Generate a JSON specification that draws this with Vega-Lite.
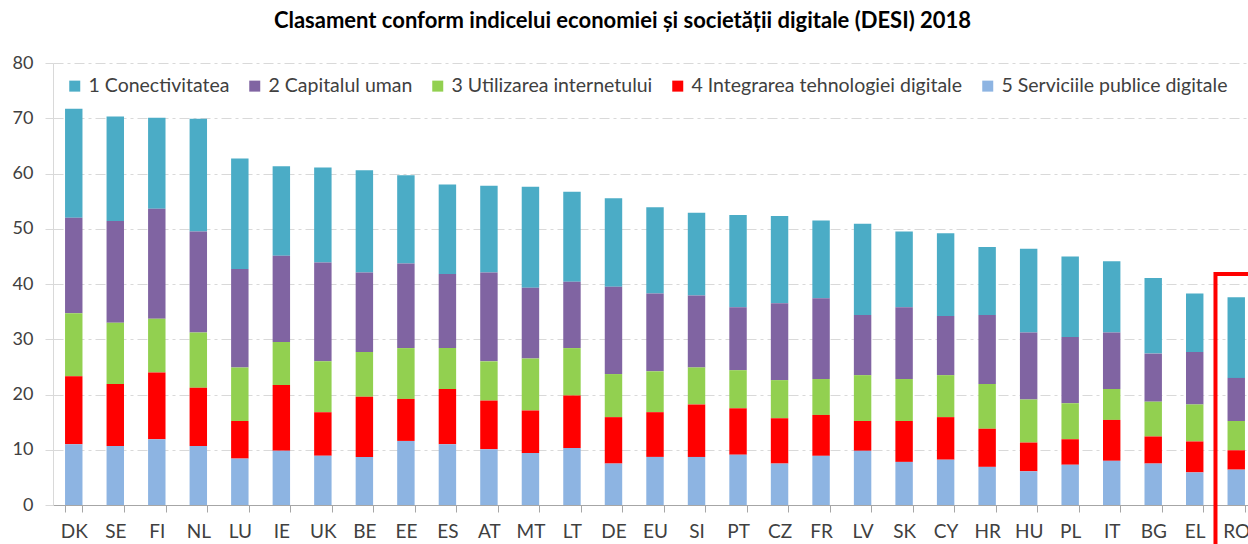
{
  "$schema": "https://vega.github.io/schema/vega-lite/v6.json",
  "width": 1195,
  "height": 442,
  "autosize": {"type": "none"},
  "padding": {"left": 53, "top": 63, "right": 0, "bottom": 39},
  "background": "white",
  "title": {
    "text": "Clasament conform indicelui economiei și societății digitale (DESI) 2018",
    "font": "Lato",
    "fontSize": 22,
    "fontWeight": "bold",
    "color": "#000000",
    "anchor": "middle",
    "dx": -28,
    "offset": 4,
    "baseline": "alphabetic"
  },
  "config": {"view": {"stroke": null}},
  "datasets": {
    "desi": [
      {"tara": "DK", "1 Conectivitatea": 19.7, "2 Capitalul uman": 17.3, "3 Utilizarea internetului": 11.4, "4 Integrarea tehnologiei digitale": 12.3, "5 Serviciile publice digitale": 11.0},
      {"tara": "SE", "1 Conectivitatea": 18.9, "2 Capitalul uman": 18.4, "3 Utilizarea internetului": 11.1, "4 Integrarea tehnologiei digitale": 11.2, "5 Serviciile publice digitale": 10.7},
      {"tara": "FI", "1 Conectivitatea": 16.5, "2 Capitalul uman": 19.9, "3 Utilizarea internetului": 9.7, "4 Integrarea tehnologiei digitale": 12.1, "5 Serviciile publice digitale": 11.9},
      {"tara": "NL", "1 Conectivitatea": 20.4, "2 Capitalul uman": 18.3, "3 Utilizarea internetului": 10.0, "4 Integrarea tehnologiei digitale": 10.5, "5 Serviciile publice digitale": 10.7},
      {"tara": "LU", "1 Conectivitatea": 20.0, "2 Capitalul uman": 17.8, "3 Utilizarea internetului": 9.7, "4 Integrarea tehnologiei digitale": 6.8, "5 Serviciile publice digitale": 8.4},
      {"tara": "IE", "1 Conectivitatea": 16.2, "2 Capitalul uman": 15.6, "3 Utilizarea internetului": 7.8, "4 Integrarea tehnologiei digitale": 11.9, "5 Serviciile publice digitale": 9.8},
      {"tara": "UK", "1 Conectivitatea": 17.2, "2 Capitalul uman": 17.9, "3 Utilizarea internetului": 9.2, "4 Integrarea tehnologiei digitale": 7.9, "5 Serviciile publice digitale": 8.9},
      {"tara": "BE", "1 Conectivitatea": 18.5, "2 Capitalul uman": 14.4, "3 Utilizarea internetului": 8.1, "4 Integrarea tehnologiei digitale": 10.9, "5 Serviciile publice digitale": 8.7},
      {"tara": "EE", "1 Conectivitatea": 16.0, "2 Capitalul uman": 15.3, "3 Utilizarea internetului": 9.2, "4 Integrarea tehnologiei digitale": 7.6, "5 Serviciile publice digitale": 11.6},
      {"tara": "ES", "1 Conectivitatea": 16.2, "2 Capitalul uman": 13.4, "3 Utilizarea internetului": 7.4, "4 Integrarea tehnologiei digitale": 10.0, "5 Serviciile publice digitale": 11.0},
      {"tara": "AT", "1 Conectivitatea": 15.7, "2 Capitalul uman": 16.1, "3 Utilizarea internetului": 7.1, "4 Integrarea tehnologiei digitale": 8.8, "5 Serviciile publice digitale": 10.1},
      {"tara": "MT", "1 Conectivitatea": 18.3, "2 Capitalul uman": 12.8, "3 Utilizarea internetului": 9.4, "4 Integrarea tehnologiei digitale": 7.7, "5 Serviciile publice digitale": 9.4},
      {"tara": "LT", "1 Conectivitatea": 16.3, "2 Capitalul uman": 12.0, "3 Utilizarea internetului": 8.6, "4 Integrarea tehnologiei digitale": 9.5, "5 Serviciile publice digitale": 10.3},
      {"tara": "DE", "1 Conectivitatea": 16.0, "2 Capitalul uman": 15.8, "3 Utilizarea internetului": 7.8, "4 Integrarea tehnologiei digitale": 8.4, "5 Serviciile publice digitale": 7.5},
      {"tara": "EU", "1 Conectivitatea": 15.6, "2 Capitalul uman": 14.1, "3 Utilizarea internetului": 7.4, "4 Integrarea tehnologiei digitale": 8.1, "5 Serviciile publice digitale": 8.7},
      {"tara": "SI", "1 Conectivitatea": 15.0, "2 Capitalul uman": 13.0, "3 Utilizarea internetului": 6.7, "4 Integrarea tehnologiei digitale": 9.5, "5 Serviciile publice digitale": 8.7},
      {"tara": "PT", "1 Conectivitatea": 16.7, "2 Capitalul uman": 11.4, "3 Utilizarea internetului": 6.9, "4 Integrarea tehnologiei digitale": 8.4, "5 Serviciile publice digitale": 9.1},
      {"tara": "CZ", "1 Conectivitatea": 15.8, "2 Capitalul uman": 13.9, "3 Utilizarea internetului": 6.9, "4 Integrarea tehnologiei digitale": 8.2, "5 Serviciile publice digitale": 7.5},
      {"tara": "FR", "1 Conectivitatea": 14.1, "2 Capitalul uman": 14.6, "3 Utilizarea internetului": 6.5, "4 Integrarea tehnologiei digitale": 7.4, "5 Serviciile publice digitale": 8.9},
      {"tara": "LV", "1 Conectivitatea": 16.5, "2 Capitalul uman": 10.9, "3 Utilizarea internetului": 8.3, "4 Integrarea tehnologiei digitale": 5.4, "5 Serviciile publice digitale": 9.8},
      {"tara": "SK", "1 Conectivitatea": 13.7, "2 Capitalul uman": 13.0, "3 Utilizarea internetului": 7.6, "4 Integrarea tehnologiei digitale": 7.4, "5 Serviciile publice digitale": 7.8},
      {"tara": "CY", "1 Conectivitatea": 15.0, "2 Capitalul uman": 10.7, "3 Utilizarea internetului": 7.6, "4 Integrarea tehnologiei digitale": 7.7, "5 Serviciile publice digitale": 8.2},
      {"tara": "HR", "1 Conectivitatea": 12.3, "2 Capitalul uman": 12.5, "3 Utilizarea internetului": 8.1, "4 Integrarea tehnologiei digitale": 6.9, "5 Serviciile publice digitale": 6.9},
      {"tara": "HU", "1 Conectivitatea": 15.2, "2 Capitalul uman": 12.1, "3 Utilizarea internetului": 7.8, "4 Integrarea tehnologiei digitale": 5.2, "5 Serviciile publice digitale": 6.1},
      {"tara": "PL", "1 Conectivitatea": 14.6, "2 Capitalul uman": 12.0, "3 Utilizarea internetului": 6.5, "4 Integrarea tehnologiei digitale": 4.6, "5 Serviciile publice digitale": 7.3},
      {"tara": "IT", "1 Conectivitatea": 12.9, "2 Capitalul uman": 10.2, "3 Utilizarea internetului": 5.6, "4 Integrarea tehnologiei digitale": 7.4, "5 Serviciile publice digitale": 8.0},
      {"tara": "BG", "1 Conectivitatea": 13.7, "2 Capitalul uman": 8.7, "3 Utilizarea internetului": 6.3, "4 Integrarea tehnologiei digitale": 4.9, "5 Serviciile publice digitale": 7.5},
      {"tara": "EL", "1 Conectivitatea": 10.6, "2 Capitalul uman": 9.5, "3 Utilizarea internetului": 6.7, "4 Integrarea tehnologiei digitale": 5.6, "5 Serviciile publice digitale": 5.9},
      {"tara": "RO", "1 Conectivitatea": 14.6, "2 Capitalul uman": 7.8, "3 Utilizarea internetului": 5.3, "4 Integrarea tehnologiei digitale": 3.5, "5 Serviciile publice digitale": 6.4}
    ],
    "evidentiere": [
      {"tara": "RO", "sus": 41.8, "jos": -10}
    ]
  },
  "layer": [
    {
      "data": {"name": "desi"},
      "transform": [
        {"fold": ["1 Conectivitatea", "2 Capitalul uman", "3 Utilizarea internetului", "4 Integrarea tehnologiei digitale", "5 Serviciile publice digitale"], "as": ["serie", "valoare"]}
      ],
      "mark": {"type": "bar"},
      "encoding": {
        "x": {
          "field": "tara",
          "type": "nominal",
          "sort": null,
          "scale": {"paddingInner": 0.58, "paddingOuter": 0.29, "rangeMax": 1204},
          "axis": {
            "title": null,
            "labelAngle": 0,
            "tickBand": "extent",
            "tickSize": 7,
            "tickColor": "#a6a6a6",
            "domainColor": "#a6a6a6",
            "labelFont": "Lato",
            "labelFontSize": 19,
            "labelColor": "#404040",
            "labelPadding": 10,
            "grid": false
          }
        },
        "y": {
          "field": "valoare",
          "type": "quantitative",
          "stack": "zero",
          "scale": {"domain": [0, 80], "nice": false},
          "axis": {
            "title": null,
            "values": [0, 10, 20, 30, 40, 50, 60, 70, 80],
            "grid": true,
            "gridDash": [10, 4, 3, 4],
            "gridColor": "#d9d9d9",
            "domainColor": "#d9d9d9",
            "tickColor": "#d9d9d9",
            "tickSize": 8,
            "labelPadding": 12,
            "labelFont": "Lato",
            "labelFontSize": 18,
            "labelColor": "#404040"
          }
        },
        "color": {
          "field": "serie",
          "type": "nominal",
          "scale": {
            "domain": ["1 Conectivitatea", "2 Capitalul uman", "3 Utilizarea internetului", "4 Integrarea tehnologiei digitale", "5 Serviciile publice digitale"],
            "range": ["#4BACC6", "#8064A2", "#92D050", "#FF0000", "#8DB4E2"]
          },
          "legend": {
            "title": null,
            "orient": "none",
            "legendX": 12,
            "legendY": 13,
            "direction": "horizontal",
            "symbolType": "square",
            "symbolSize": 121,
            "symbolStrokeWidth": 0,
            "labelFont": "Lato",
            "labelFontSize": 19.5,
            "labelLimit": 0,
            "labelColor": "#404040",
            "labelOffset": 4,
            "columnPadding": 15
          }
        },
        "order": {"field": "serie", "sort": "descending"}
      }
    },
    {
      "data": {"name": "evidentiere"},
      "mark": {"type": "rect", "fill": null, "stroke": "#FF0000", "strokeWidth": 4},
      "encoding": {
        "x": {
          "field": "tara",
          "type": "nominal",
          "scale": {
            "domain": ["DK", "SE", "FI", "NL", "LU", "IE", "UK", "BE", "EE", "ES", "AT", "MT", "LT", "DE", "EU", "SI", "PT", "CZ", "FR", "LV", "SK", "CY", "HR", "HU", "PL", "IT", "BG", "EL", "RO"],
            "paddingInner": 0,
            "paddingOuter": 0,
            "rangeMax": 1204
          },
          "axis": null
        },
        "y": {"field": "sus", "type": "quantitative"},
        "y2": {"field": "jos"}
      }
    }
  ],
  "resolve": {"scale": {"x": "independent"}}
}
